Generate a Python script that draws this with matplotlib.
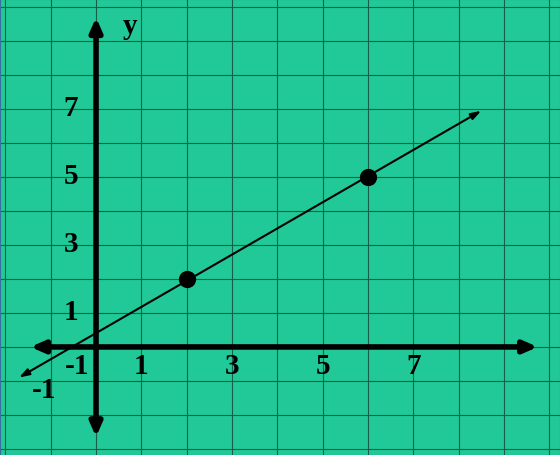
import matplotlib
matplotlib.use("Agg")
import matplotlib.pyplot as plt

points_x = [2, 6]
points_y = [2, 5]
line_start = (-1.7, -0.9)
line_end = (8.5, 6.95)
x_tick_vals = [-1, 1, 3, 5, 7]
y_tick_vals = [1, 3, 5, 7, -1]

fig = plt.figure(figsize=(5.6, 4.56), dpi=100)
ax = fig.add_axes([0, 0, 1, 1])
ax.set_facecolor("#20C997")
ax.set_xlim(-2.12, 10.24)
ax.set_ylim(-3.18, 10.24)
for xv in range(-2, 11):
    ax.axvline(xv, color="#1a5e4a", lw=0.8, zorder=1)
for yv in range(-3, 11):
    ax.axhline(yv, color="#1a5e4a", lw=0.8, zorder=1)
ax.set_xticks([]); ax.set_yticks([])
for s in ax.spines.values():
    s.set_color("#3a6ea0")

ak = dict(arrowstyle="-|>,head_length=0.8,head_width=0.35", lw=4, color="black",
          shrinkA=0, shrinkB=0)
ax.annotate("", xy=(9.75, 0), xytext=(0, 0), arrowprops=ak, zorder=3)
ax.annotate("", xy=(-1.45, 0), xytext=(0, 0), arrowprops=ak, zorder=3)
ax.annotate("", xy=(0, 9.7), xytext=(0, 0), arrowprops=ak, zorder=3)
ax.annotate("", xy=(0, -2.65), xytext=(0, 0), arrowprops=ak, zorder=3)

lk = dict(arrowstyle="<|-|>,head_length=0.6,head_width=0.2", lw=1.5, color="black",
          shrinkA=0, shrinkB=0)
ax.annotate("", xy=line_end, xytext=line_start, arrowprops=lk, zorder=4)
ax.scatter(points_x, points_y, s=130, color="black", zorder=5)

fk = dict(family="Liberation Serif", fontweight="bold", fontsize=21, color="black")
ax.text(-0.42, -0.55, "-1", ha="center", va="center", **fk)
for v in x_tick_vals[1:]:
    ax.text(v, -0.55, str(v), ha="center", va="center", **fk)
for v in y_tick_vals:
    if v == -1:
        ax.text(-1.15, -1.25, "-1", ha="center", va="center", **fk)
    else:
        ax.text(-0.55, v + 0.05, str(v), ha="center", va="center", **fk)
ax.text(0.75, 9.45, "y", ha="center", va="center", **fk)

fig.savefig("out.png", dpi=100)
